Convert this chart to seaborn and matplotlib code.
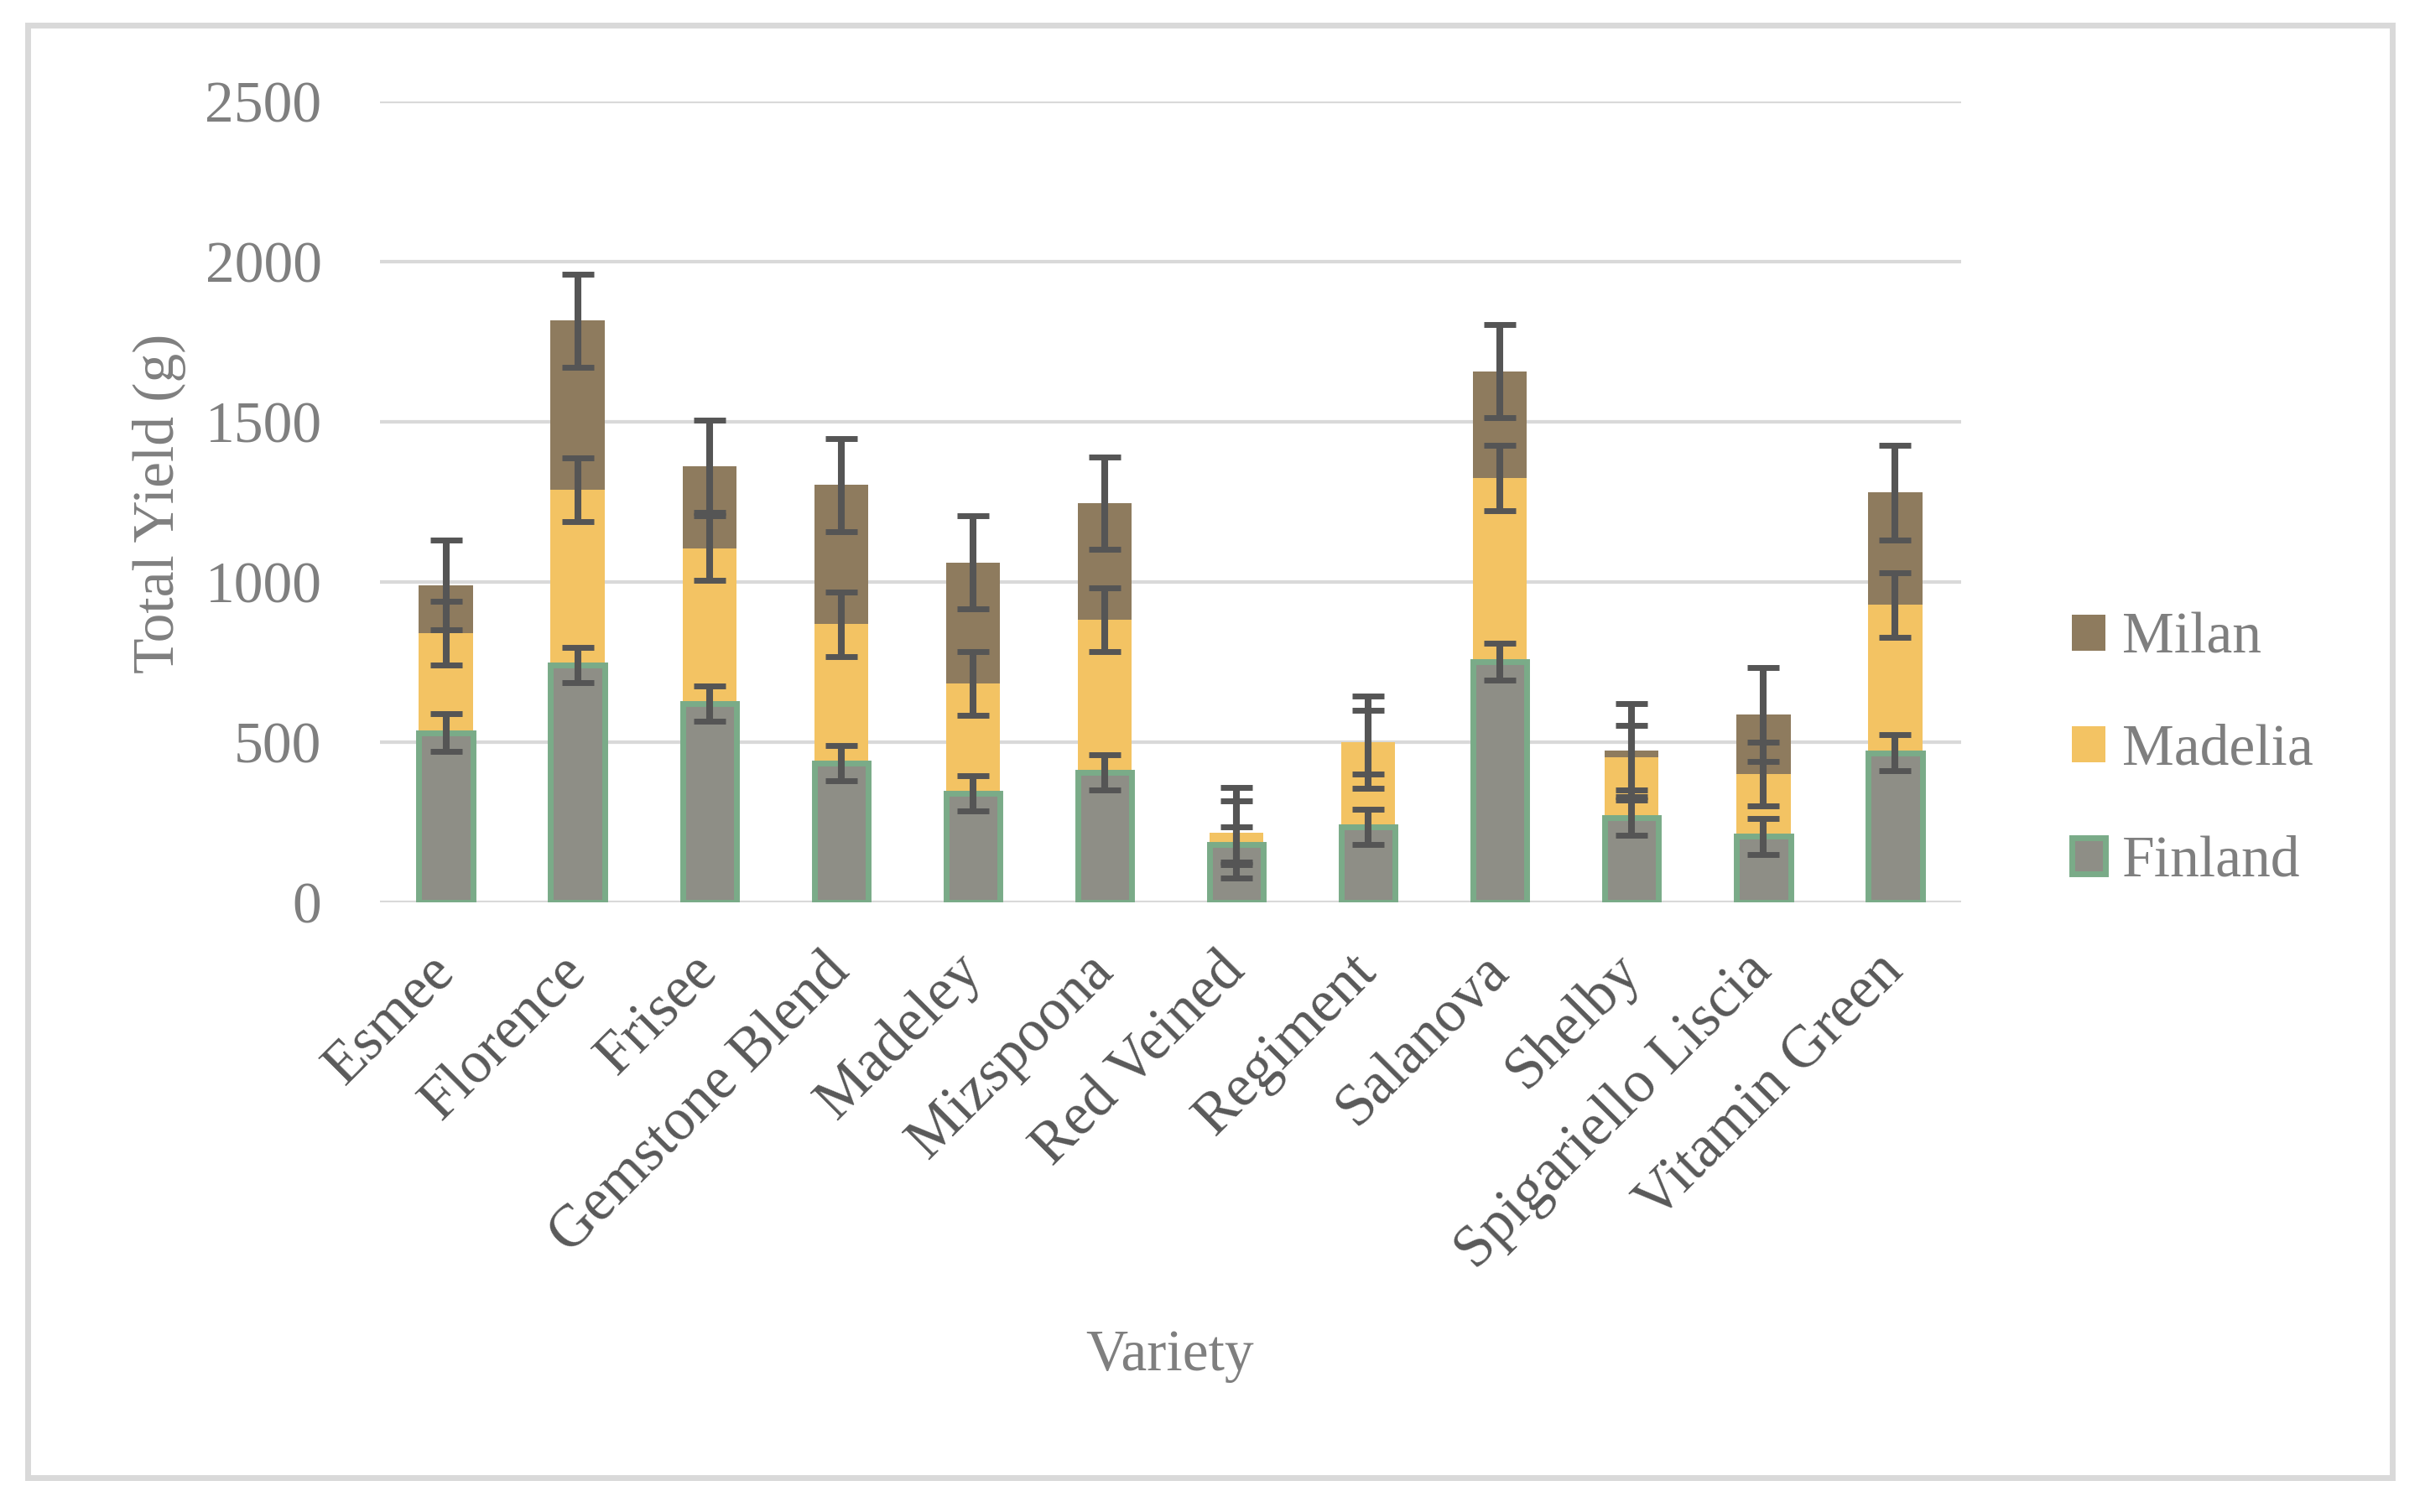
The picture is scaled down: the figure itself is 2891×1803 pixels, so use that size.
import matplotlib
matplotlib.use("Agg")
import matplotlib.pyplot as plt
import matplotlib.patches as mpatches
import numpy as np
import pandas as pd
import seaborn as sns

# values (g)
varieties = ["Esmee", "Florence", "Frisee", "Gemstone Blend", "Madeley", "Mizspoona",
             "Red Veined", "Regiment", "Salanova", "Shelby", "Spigariello Liscia", "Vitamin Green"]
finland = [530, 740, 620, 435, 340, 405, 180, 235, 752, 265, 206, 467]
madelia = [310, 548, 486, 433, 344, 478, 38, 265, 573, 187, 194, 462]
milan = [150, 528, 255, 435, 377, 363, 0, 0, 333, 23, 186, 350]
finland_err = [58, 55, 55, 55, 55, 55, 55, 55, 58, 55, 57, 57]
madelia_err = [100, 100, 100, 100, 100, 100, 100, 100, 102, 100, 100, 101]
milan_err = [140, 145, 145, 145, 145, 145, 142, 144, 145, 145, 146, 147]

df = pd.DataFrame({"Variety": varieties, "Finland": finland, "Madelia": madelia, "Milan": milan})
df["cum_finland"] = df["Finland"]
df["cum_madelia"] = df["Finland"] + df["Madelia"]
df["cum_milan"] = df["cum_madelia"] + df["Milan"]

C_MILAN = "#8E7B5E"
C_MADELIA = "#F3C363"
C_FINLAND = "#8E8E86"
C_EDGE = "#7AAB88"
C_ERR = "#555555"
C_GRID = "#D9D9D9"
C_TXT = "#7F7F7F"
C_XTICK = "#595959"

sns.set_theme(style="white")
plt.rcParams["font.family"] = ["Liberation Serif", "DejaVu Serif"]

fig = plt.figure(figsize=(14.455, 9.015), dpi=200)
ax = fig.add_axes([0.1567, 0.4032, 0.652, 0.5297])

bar_w = 0.41
sns.barplot(data=df, x="Variety", y="cum_milan", order=varieties, color=C_MILAN,
            saturation=1, width=bar_w, errorbar=None, linewidth=0, ax=ax, zorder=2)
sns.barplot(data=df, x="Variety", y="cum_madelia", order=varieties, color=C_MADELIA,
            saturation=1, width=bar_w, errorbar=None, linewidth=0, ax=ax, zorder=2)
sns.barplot(data=df, x="Variety", y="cum_finland", order=varieties, color=C_FINLAND,
            saturation=1, width=bar_w, errorbar=None, edgecolor=C_EDGE, linewidth=2.5,
            ax=ax, zorder=2)

pos = np.arange(len(varieties))
for col, err in [("cum_finland", finland_err), ("cum_madelia", madelia_err), ("cum_milan", milan_err)]:
    ax.errorbar(pos, df[col], yerr=err, fmt="none", ecolor=C_ERR, elinewidth=2.9,
                capsize=7, capthick=2.5, zorder=4)

ax.set_xlim(-0.5, len(varieties) - 0.5)
ax.set_ylim(0, 2500)
ax.set_yticks([0, 500, 1000, 1500, 2000, 2500])
ax.yaxis.grid(True, color=C_GRID, linewidth=1.5, zorder=0)
ax.set_axisbelow(True)
for s in ax.spines.values():
    s.set_visible(False)
ax.tick_params(axis="y", length=0, pad=25, labelsize=25, labelcolor=C_TXT)
ax.tick_params(axis="x", length=0, pad=26, labelsize=25.5, labelcolor=C_XTICK)
plt.setp(ax.get_xticklabels(), rotation=45, ha="right", va="center", rotation_mode="anchor")

ax.set_xlabel("")
ax.set_ylabel("")
fig.text(190 / 2891, 1 - 600 / 1803, "Total Yield (g)", rotation=90, ha="center", va="center",
         fontsize=25, color=C_TXT)
fig.text(1395 / 2891, 1 - 1617 / 1803, "Variety", ha="center", va="center",
         fontsize=25, color=C_TXT)

handles = [
    mpatches.Patch(facecolor=C_MILAN, edgecolor="none", label="Milan"),
    mpatches.Patch(facecolor=C_MADELIA, edgecolor="none", label="Madelia"),
    mpatches.Patch(facecolor=C_FINLAND, edgecolor=C_EDGE, linewidth=2.5, label="Finland"),
]
leg = fig.legend(handles=handles, loc="center left", bbox_to_anchor=(2470 / 2891, 1 - 895 / 1803),
                 frameon=False, fontsize=25, handlelength=0.57, handleheight=0.57,
                 handletextpad=0.3, labelspacing=1.0, borderpad=0, borderaxespad=0)
for t in leg.get_texts():
    t.set_color(C_TXT)

# outer chart frame
fig.patches.append(mpatches.Rectangle((33 / 2891, 1 - 1762 / 1803), (2852 - 33) / 2891,
                                      (1762 - 30) / 1803, transform=fig.transFigure,
                                      fill=False, edgecolor=C_GRID, linewidth=2.5))

fig.savefig("out.png", dpi=200, facecolor="white")
